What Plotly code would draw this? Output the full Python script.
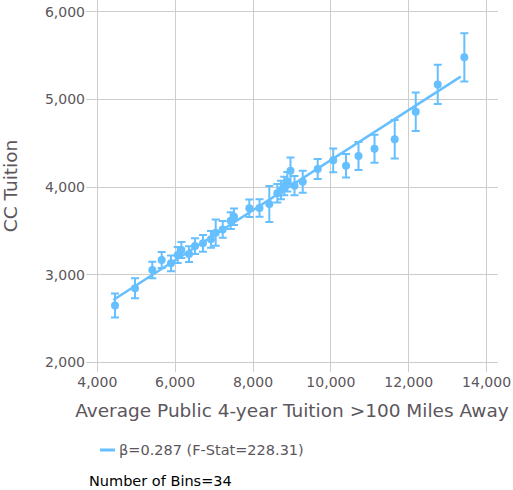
import plotly.graph_objects as go

# Binned data
bin_x = [4455, 4969, 5413, 5654, 5893, 6066, 6160, 6356, 6510, 6715, 6920, 7042,
         7222, 7427, 7512, 7905, 8167, 8419, 8624, 8719, 8804, 8881, 8963, 9066,
         9277, 9662, 10060, 10389, 10710, 11121, 11640, 12180, 12745, 13428]
bin_y = [2650, 2846, 3055, 3169, 3131, 3226, 3283, 3237, 3328, 3359, 3404, 3480,
         3518, 3617, 3662, 3758, 3761, 3807, 3929, 3967, 4012, 4061, 4187, 4016,
         4061, 4206, 4305, 4243, 4354, 4437, 4545, 4859, 5171, 5479]
bin_err = [137, 114, 95, 90, 90, 90, 90, 90, 90, 95, 95, 150,
           95, 95, 95, 100, 100, 205, 105, 105, 105, 110, 150, 110,
           125, 115, 135, 135, 160, 160, 220, 220, 225, 275]

# Fit line endpoints
fit_x = [4411, 13335]
fit_y = [2713, 5259]

legend_label = "β=0.287 (F-Stat=228.31)"
bins_label = "Number of Bins=34"
x_title = "Average Public 4-year Tuition >100 Miles Away"
y_title = "CC Tuition"
x_ticks = [4000, 6000, 8000, 10000, 12000, 14000]
y_ticks = [2000, 3000, 4000, 5000, 6000]

COLOR = "#66BFFF"
TEXT = "#5b565c"
GRID = "#cdcdcd"
FONT = "DejaVu Sans"

fig = go.Figure()
fig.add_trace(go.Scatter(
    x=bin_x, y=bin_y, mode="markers",
    marker=dict(color=COLOR, size=8),
    error_y=dict(type="data", array=bin_err, visible=True, color=COLOR,
                 thickness=2, width=4),
    showlegend=False, hoverinfo="skip"))
fig.add_trace(go.Scatter(
    x=fit_x, y=fit_y, mode="lines",
    line=dict(color=COLOR, width=2.5),
    name=legend_label, showlegend=False))

# legend drawn as a short line key + label (paper coordinates)
fig.add_shape(type="line", xref="paper", yref="paper",
              x0=0.034, x1=0.0704, y0=-0.2097, y1=-0.2097,
              line=dict(color=COLOR, width=3))

fig.update_layout(
    width=513, height=490,
    margin=dict(l=86, r=15, t=0, b=118, autoexpand=False),
    plot_bgcolor="white", paper_bgcolor="white",
    font=dict(family=FONT, size=14, color=TEXT),
    showlegend=False,
    xaxis=dict(range=[3710, 14293], tickvals=x_ticks, tickformat=",d",
               showgrid=True, gridcolor=GRID, gridwidth=1.3, zeroline=False,
               showline=False, ticks="", tickfont=dict(size=14, color=TEXT),
               title=dict(text=x_title, font=dict(size=18.5, color=TEXT), standoff=15)),
    yaxis=dict(range=[1892, 6133], tickvals=y_ticks, tickformat=",d",
               showgrid=True, gridcolor=GRID, gridwidth=1.3, zeroline=False,
               showline=False, ticks="", tickfont=dict(size=14, color=TEXT),
               title=dict(text=y_title, font=dict(size=18.5, color=TEXT), standoff=22)),
    annotations=[
        dict(text=legend_label, xref="paper", yref="paper",
             x=0.0753, y=-0.2097, xanchor="left", yanchor="middle",
             showarrow=False, font=dict(size=14.5, color=TEXT)),
        dict(text=bins_label, xref="paper", yref="paper",
             x=0.0025, y=-0.293, xanchor="left", yanchor="middle",
             showarrow=False, font=dict(size=14.5, color="black")),
    ],
)

fig.write_html("out.html")
